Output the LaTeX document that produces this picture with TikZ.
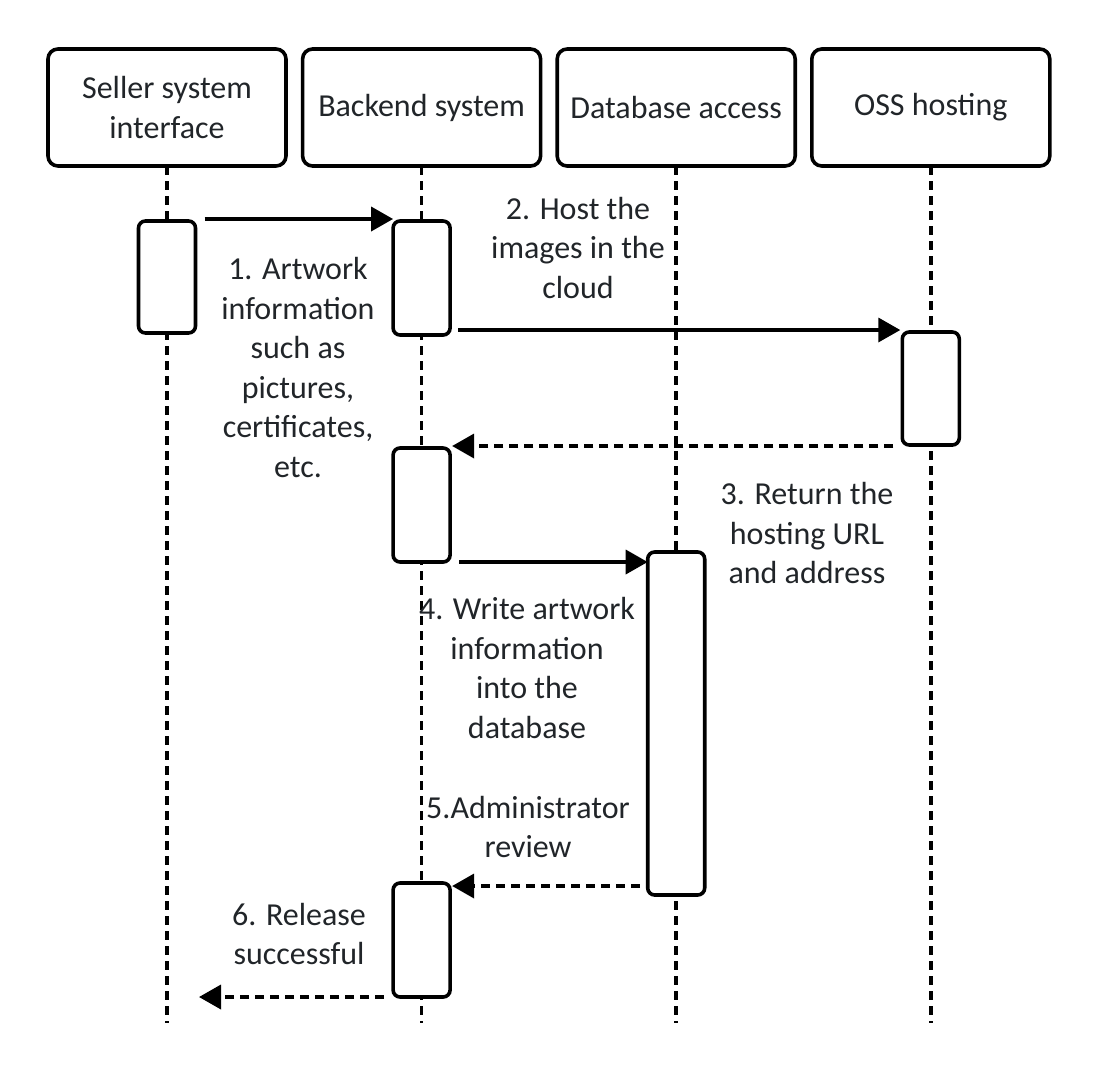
\documentclass[tikz,border=0pt]{standalone}
\usepackage{fontspec}
\setmainfont{Carlito}
\usetikzlibrary{arrows.meta,positioning}
\definecolor{inkgray}{RGB}{33,37,41}
\newcommand{\msgfont}{\fontsize{16}{19.75}\selectfont}
\tikzset{every picture/.style={line width=1.8pt}}

\begin{document}
\begin{tikzpicture}[x=0.5pt,y=-0.5pt,
    head/.style={draw, rounded corners=5pt, minimum width=119pt, minimum height=58.5pt,
        outer sep=0pt, align=center, text=inkgray, font=\msgfont},
    act/.style={draw, fill=white, rounded corners=3.5pt, minimum width=28.5pt, outer sep=0pt},
    lifeline/.style={dash pattern=on 4.5pt off 3pt},
    msg/.style={-{Triangle[length=11pt,width=12pt]}},
    reply/.style={msg, dash pattern=on 4.5pt off 3pt},
    note/.style={align=center, text=inkgray, font=\msgfont}]
    \useasboundingbox (0,0) rectangle (1100,1078);

    % participants
    \node[head] (seller) at (167,107.5) {Seller system\\interface};
    \node[head, right=8.3pt of seller] (backend) {Backend system};
    \node[head, right=8.3pt of backend] (database) {Database access};
    \node[head, right=8.3pt of database] (oss) {OSS hosting};

    % lifelines
    \coordinate (bottom) at (0,1023);
    \foreach \who in {seller,backend,database,oss}
        \draw[lifeline] (\who) -- (\who |- bottom);

    % activations
    \node[act, minimum height=56pt] (sellerA) at (seller |- 0,277) {};
    \node[act, minimum height=57pt] (backA) at (backend |- 0,278) {};
    \node[act, minimum height=56.5pt] (ossA) at (oss |- 0,388.5) {};
    \node[act, minimum height=57pt] (backB) at (backend |- 0,505) {};
    \node[act, minimum height=171.5pt] (dbA) at (database |- 0,723.5) {};
    \node[act, minimum height=57pt] (backC) at (backend |- 0,940) {};
    \coordinate[xshift=16pt] (sent) at (seller |- backC.south);

    % messages
    \draw[msg] ([xshift=4.5pt,yshift=1pt]sellerA.north east) -- ([yshift=1pt]backA.north west);
    \draw[msg] ([xshift=4pt,yshift=2.5pt]backA.south east) -- ([xshift=-1pt,yshift=1pt]ossA.north west);
    \draw[reply] ([xshift=-4.5pt,yshift=-0.5pt]ossA.south west) -- ([xshift=1pt,yshift=1pt]backB.north east);
    \draw[msg] ([xshift=4.5pt]backB.south east) -- ([yshift=-5pt]dbA.north west);
    \draw[reply] ([xshift=-4pt,yshift=4.5pt]dbA.south west) -- ([xshift=1pt,yshift=-1.5pt]backC.north east);
    \draw[reply] ([xshift=-4.5pt]backC.south west) -- (sent);

    % labels
    \node[note] (note1) at (298,367.5) {1. Artwork\\information\\such as\\pictures,\\certificates,\\etc.};
    \node[note] (note2) at (578,247.5) {2. Host the\\images in the\\cloud};
    \node[note] (note3) at (807,533) {3. Return the\\hosting URL\\and address};
    \node[note] (note4) at (527,668) {4. Write artwork\\information\\into the\\database};
    \node[note] (note5) at (528,827) {5.Administrator\\review};
    \node[note] (note6) at (299,934) {6. Release\\successful};
\end{tikzpicture}
\end{document}
